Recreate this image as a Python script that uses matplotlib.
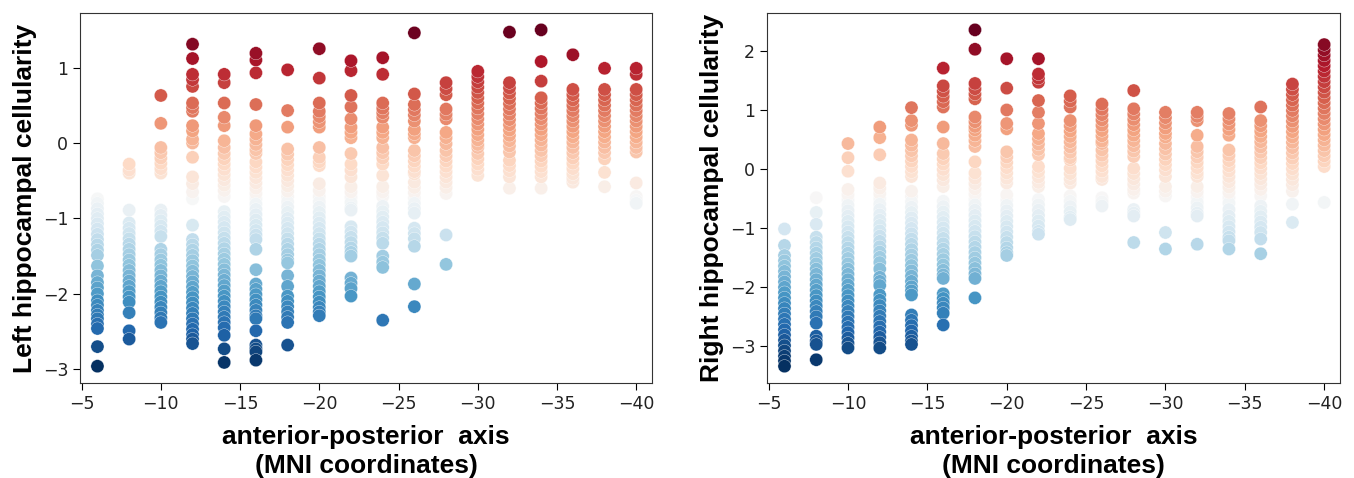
import numpy as np
import matplotlib
matplotlib.use("Agg")
import matplotlib.pyplot as plt

# MNI y-coordinates of the hippocampal slices
mni_y = [-6, -8, -10, -12, -14, -16, -18, -20, -22, -24, -26, -28, -30, -32, -34, -36, -38, -40]

# cellularity values per slice (left hemisphere)
left_vals = [
    [-0.74, -0.8, -0.87, -0.94, -1.0, -1.07, -1.14, -1.21, -1.28, -1.35, -1.42, -1.49, -1.63, -1.76, -1.85,
     -1.92, -2.0, -2.09, -2.15, -2.22, -2.28, -2.33, -2.4, -2.46, -2.7, -2.96],
    [-0.28, -0.36, -0.4, -0.89, -1.06, -1.13, -1.2, -1.27, -1.34, -1.41, -1.48, -1.55, -1.62, -1.69, -1.76,
     -1.83, -1.9, -1.97, -2.04, -2.11, -2.25, -2.49, -2.6],
    [0.63, 0.26, -0.06, -0.13, -0.2, -0.27, -0.34, -0.4, -0.89, -0.96, -1.03, -1.1, -1.17, -1.24, -1.41, -1.48,
     -1.55, -1.62, -1.69, -1.76, -1.83, -1.9, -1.97, -2.04, -2.11, -2.18, -2.25, -2.32, -2.38],
    [1.31, 1.12, 0.91, 0.84, 0.75, 0.53, 0.47, 0.42, 0.23, 0.16, 0.05, 0.0, -0.19, -0.45, -0.54, -0.65, -0.74,
     -1.09, -1.28, -1.35, -1.42, -1.49, -1.56, -1.63, -1.7, -1.77, -1.84, -1.91, -1.98, -2.05, -2.12, -2.19,
     -2.26, -2.33, -2.4, -2.47, -2.54, -2.6, -2.66],
    [0.91, 0.8, 0.53, 0.34, 0.23, 0.03, -0.06, -0.14, -0.21, -0.28, -0.35, -0.42, -0.49, -0.56, -0.63, -0.71,
     -0.91, -0.98, -1.05, -1.12, -1.19, -1.26, -1.33, -1.4, -1.47, -1.54, -1.61, -1.68, -1.75, -1.82, -1.89,
     -1.96, -2.03, -2.1, -2.17, -2.24, -2.31, -2.38, -2.45, -2.55, -2.73, -2.91],
    [1.19, 1.1, 0.93, 0.51, 0.23, 0.12, 0.05, -0.02, -0.09, -0.14, -0.25, -0.32, -0.39, -0.46, -0.53, -0.6,
     -0.67, -0.74, -0.81, -0.88, -0.95, -1.02, -1.09, -1.16, -1.22, -1.28, -1.41, -1.68, -1.87, -1.94, -2.01,
     -2.08, -2.15, -2.22, -2.29, -2.33, -2.49, -2.68, -2.73, -2.77, -2.88],
    [0.97, 0.43, 0.21, -0.08, -0.15, -0.22, -0.29, -0.36, -0.43, -0.5, -0.57, -0.64, -0.71, -0.78, -0.85, -0.92,
     -1.0, -1.06, -1.13, -1.2, -1.27, -1.34, -1.41, -1.48, -1.55, -1.59, -1.76, -1.9, -2.03, -2.1, -2.17, -2.24,
     -2.31, -2.38, -2.68],
    [1.25, 0.86, 0.53, 0.42, 0.35, 0.28, 0.21, -0.06, -0.19, -0.25, -0.3, -0.54, -0.63, -0.71, -0.78, -0.85,
     -0.92, -0.99, -1.06, -1.13, -1.2, -1.27, -1.34, -1.41, -1.48, -1.55, -1.62, -1.69, -1.76, -1.83, -1.9,
     -1.97, -2.04, -2.11, -2.18, -2.24, -2.29],
    [1.09, 0.96, 0.63, 0.48, 0.32, 0.21, 0.14, 0.07, -0.14, -0.28, -0.36, -0.45, -0.58, -0.65, -0.72, -0.79,
     -0.86, -0.89, -1.11, -1.18, -1.25, -1.32, -1.39, -1.45, -1.5, -1.79, -1.86, -1.93, -2.03],
    [1.13, 0.91, 0.53, 0.46, 0.4, 0.34, 0.21, 0.14, 0.07, -0.06, -0.13, -0.2, -0.28, -0.43, -0.58, -0.65, -0.71,
     -0.84, -0.91, -0.98, -1.05, -1.12, -1.19, -1.26, -1.33, -1.5, -1.58, -1.65, -2.35],
    [1.46, 0.65, 0.51, 0.44, 0.37, 0.29, 0.18, 0.12, 0.07, -0.1, -0.17, -0.24, -0.31, -0.38, -0.41, -0.52, -0.59,
     -0.66, -0.73, -0.8, -0.87, -0.93, -1.13, -1.2, -1.27, -1.37, -1.87, -2.17],
    [0.8, 0.72, 0.64, 0.45, 0.38, 0.32, 0.14, 0.07, -0.01, -0.1, -0.17, -0.24, -0.31, -0.38, -0.45, -0.52, -0.59,
     -0.67, -1.22, -1.61],
    [0.95, 0.88, 0.81, 0.74, 0.67, 0.6, 0.53, 0.46, 0.39, 0.32, 0.25, 0.18, 0.11, 0.04, -0.02, -0.06, -0.14,
     -0.21, -0.28, -0.35, -0.43],
    [1.47, 0.8, 0.73, 0.66, 0.59, 0.52, 0.45, 0.38, 0.31, 0.24, 0.17, 0.1, 0.03, -0.04, -0.12, -0.23, -0.3,
     -0.37, -0.45, -0.6],
    [1.5, 1.08, 0.82, 0.6, 0.53, 0.46, 0.39, 0.32, 0.25, 0.18, 0.11, 0.04, -0.03, -0.1, -0.17, -0.24, -0.31,
     -0.38, -0.45, -0.6],
    [1.17, 0.71, 0.64, 0.57, 0.5, 0.43, 0.36, 0.29, 0.22, 0.15, 0.08, 0.01, -0.06, -0.13, -0.2, -0.27, -0.34,
     -0.41, -0.47, -0.52],
    [0.99, 0.71, 0.64, 0.57, 0.5, 0.43, 0.36, 0.29, 0.22, 0.15, 0.08, 0.01, -0.06, -0.13, -0.21, -0.39, -0.58],
    [0.99, 0.91, 0.71, 0.64, 0.57, 0.5, 0.43, 0.36, 0.29, 0.22, 0.15, 0.08, 0.01, -0.06, -0.12, -0.53, -0.71,
     -0.76, -0.8],
]

# right hemisphere
right_vals = [
    [-1.02, -1.3, -1.47, -1.56, -1.65, -1.74, -1.83, -1.92, -2.01, -2.1, -2.19, -2.28, -2.37, -2.46, -2.55,
     -2.64, -2.73, -2.82, -2.91, -3.0, -3.09, -3.18, -3.26, -3.35],
    [-0.49, -0.74, -0.94, -1.16, -1.25, -1.34, -1.43, -1.52, -1.61, -1.7, -1.79, -1.88, -1.97, -2.06, -2.15,
     -2.24, -2.33, -2.42, -2.51, -2.62, -2.84, -2.92, -2.98, -3.24],
    [0.43, 0.19, -0.04, -0.35, -0.44, -0.53, -0.62, -0.71, -0.8, -0.89, -0.98, -1.07, -1.16, -1.25, -1.34,
     -1.43, -1.52, -1.61, -1.7, -1.79, -1.88, -1.97, -2.06, -2.15, -2.24, -2.33, -2.42, -2.51, -2.6, -2.69,
     -2.78, -2.87, -2.96, -3.04],
    [0.71, 0.53, 0.24, -0.24, -0.33, -0.42, -0.51, -0.6, -0.69, -0.78, -0.87, -0.96, -1.05, -1.14, -1.23,
     -1.32, -1.41, -1.5, -1.59, -1.7, -1.84, -1.91, -1.98, -2.14, -2.23, -2.32, -2.41, -2.5, -2.59, -2.68,
     -2.77, -2.86, -2.95, -3.04],
    [1.04, 0.82, 0.74, 0.49, 0.4, 0.31, 0.22, 0.13, 0.04, -0.05, -0.13, -0.38, -0.47, -0.56, -0.65, -0.74,
     -0.83, -0.92, -1.01, -1.1, -1.19, -1.28, -1.37, -1.46, -1.55, -1.64, -1.73, -1.82, -1.91, -2.0, -2.07,
     -2.14, -2.48, -2.57, -2.66, -2.75, -2.84, -2.92, -2.98],
    [1.71, 1.41, 1.32, 1.23, 1.14, 1.05, 0.71, 0.43, 0.26, 0.17, 0.08, -0.01, -0.1, -0.19, -0.3, -0.55, -0.64,
     -0.73, -0.82, -0.91, -1.0, -1.09, -1.18, -1.27, -1.36, -1.45, -1.54, -1.63, -1.72, -1.8, -1.86, -2.12,
     -2.2, -2.28, -2.36, -2.45, -2.65],
    [2.36, 2.03, 1.45, 1.36, 1.27, 1.19, 0.88, 0.8, 0.72, 0.66, 0.57, 0.48, 0.38, 0.12, -0.07, -0.16, -0.25,
     -0.34, -0.43, -0.52, -0.61, -0.7, -0.79, -0.88, -0.97, -1.06, -1.15, -1.24, -1.33, -1.42, -1.51, -1.6,
     -1.69, -1.78, -1.86, -2.19],
    [1.87, 1.37, 1.0, 0.77, 0.68, 0.29, 0.2, 0.11, 0.02, -0.07, -0.16, -0.24, -0.44, -0.53, -0.62, -0.71, -0.8,
     -0.89, -0.98, -1.07, -1.16, -1.25, -1.34, -1.42, -1.47],
    [1.87, 1.61, 1.54, 1.47, 1.16, 0.96, 0.77, 0.6, 0.51, 0.42, 0.33, 0.24, 0.04, -0.05, -0.14, -0.23, -0.3,
     -0.52, -0.61, -0.7, -0.79, -0.88, -0.97, -1.06, -1.11],
    [1.24, 1.15, 1.05, 0.82, 0.73, 0.64, 0.55, 0.46, 0.37, 0.28, 0.19, 0.15, 0.01, -0.08, -0.17, -0.24, -0.46,
     -0.55, -0.64, -0.73, -0.82, -0.86],
    [1.1, 1.01, 0.92, 0.83, 0.74, 0.65, 0.56, 0.47, 0.43, 0.32, 0.23, 0.14, 0.05, -0.04, -0.13, -0.18, -0.49,
     -0.56, -0.63],
    [1.33, 1.02, 0.93, 0.84, 0.75, 0.66, 0.57, 0.48, 0.39, 0.3, 0.21, 0.01, -0.08, -0.17, -0.26, -0.35, -0.41,
     -0.69, -0.75, -0.8, -1.25],
    [0.96, 0.87, 0.78, 0.69, 0.6, 0.54, 0.43, 0.34, 0.25, 0.16, 0.07, -0.02, -0.13, -0.3, -0.38, -0.46, -1.08,
     -1.36],
    [0.96, 0.89, 0.82, 0.57, 0.38, 0.29, 0.2, 0.11, 0.02, -0.07, -0.13, -0.3, -0.39, -0.48, -0.57, -0.66, -0.75,
     -0.8, -1.28],
    [0.94, 0.85, 0.76, 0.67, 0.57, 0.32, 0.23, 0.14, 0.05, -0.04, -0.13, -0.22, -0.31, -0.4, -0.49, -0.58,
     -0.69, -0.8, -0.89, -0.98, -1.07, -1.16, -1.22, -1.36],
    [1.05, 0.82, 0.73, 0.64, 0.55, 0.46, 0.37, 0.28, 0.19, 0.1, 0.01, -0.08, -0.17, -0.26, -0.35, -0.46, -0.63,
     -0.72, -0.81, -0.9, -0.99, -1.08, -1.19, -1.44],
    [1.44, 1.35, 1.26, 1.17, 1.08, 0.99, 0.9, 0.81, 0.72, 0.63, 0.54, 0.45, 0.36, 0.27, 0.18, 0.09, 0.0, -0.09,
     -0.18, -0.27, -0.38, -0.6, -0.91],
    [2.11, 2.02, 1.93, 1.84, 1.75, 1.66, 1.57, 1.48, 1.39, 1.3, 1.21, 1.12, 1.03, 0.94, 0.85, 0.76, 0.67, 0.58,
     0.49, 0.4, 0.31, 0.22, 0.13, 0.04, -0.57],
]

ylabels = ["Left hippocampal cellularity", "Right hippocampal cellularity"]
xlabel = "anterior-posterior  axis\n(MNI coordinates)"
label_font = ["Liberation Sans", "DejaVu Sans"]

fig = plt.figure(figsize=(13.54, 4.78), dpi=100)
ax_l = fig.add_axes([0.0591, 0.1987, 0.4225, 0.774])
ax_r = fig.add_axes([0.5665, 0.1987, 0.4232, 0.774])

for ax, vals, ylab in zip([ax_l, ax_r], [left_vals, right_vals], ylabels):
    xs = np.concatenate([[x] * len(v) for x, v in zip(mni_y, vals)])
    ys = np.concatenate(vals)
    # extremes drawn last so the dark dots sit on top
    order = np.argsort(np.abs(ys - (ys.max() + ys.min()) / 2))
    ax.scatter(xs[order], ys[order], c=ys[order], cmap="RdBu_r", vmin=ys.min(), vmax=ys.max(),
               s=90, edgecolors="white", linewidths=0.25)
    ax.set_xlim(-4.9, -41.0)
    ax.set_xticks([-5, -10, -15, -20, -25, -30, -35, -40])
    ax.tick_params(labelsize=12.5, length=5, labelcolor="#222222")
    for sp in ax.spines.values():
        sp.set_color("#333333")
    ax.set_ylabel(ylab, fontsize=19, fontweight="bold", family=label_font, labelpad=4)
    ax.set_xlabel(xlabel, fontsize=19, fontweight="bold", family=label_font, labelpad=9, linespacing=1.25)

ax_r.set_yticks([-3, -2, -1, 0, 1, 2])

plt.savefig("out.png", dpi=100)
